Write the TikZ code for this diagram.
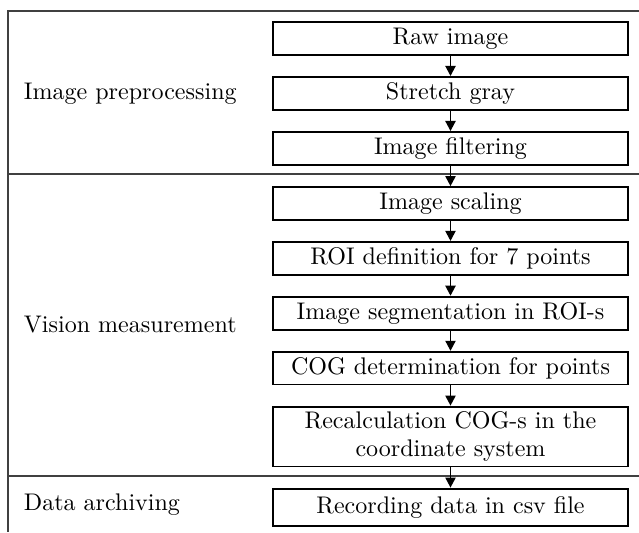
\documentclass[tikz,border=0pt]{standalone}
\usetikzlibrary{arrows.meta, positioning, calc}

\begin{document}
\begin{tikzpicture}[
    x = 0.416pt, y = -0.416pt, % one unit = one pixel of the scan, y down
    > = {Triangle[length=4.2pt, width=4.2pt]}, % arrow head style
    node distance = 8.4pt, % gap between boxes
    thick % line style
    ]

    \tikzset{stage/.style={
    draw = black,
    thick,
    inner ysep = 2.3pt,
    minimum width = 147.7pt,
    minimum height = 13.6pt,
    align = center
    }}
    \tikzset{phase/.style={anchor = west, inner sep = 0pt}}
    \tikzset{rule/.style={draw = black!75, line width = 0.6pt}}

    \useasboundingbox (0,0) rectangle (639,532);

    % table frame
    \draw[rule] (639,11) -- (8,11) -- (8,532);
    \draw[rule] (8,174) -- (639,174);
    \draw[rule] (8,476) -- (639,476);

    % steps
    \node[stage] (raw) at (450.5,38.5) {Raw image};
    \node[stage] (stretch) [below=of raw] {Stretch gray};
    \node[stage] (filter) [below=of stretch] {Image filtering};
    \node[stage] (scale) [below=of filter] {Image scaling};
    \node[stage] (roi) [below=of scale] {ROI definition for 7 points};
    \node[stage] (segment) [below=of roi] {Image segmentation in ROI-s};
    \node[stage] (cog) [below=of segment] {COG determination for points};
    \node[stage, inner ysep=1.9pt] (recalc) [below=of cog]
        {Recalculation COG-s in the\\ coordinate system};
    \node[stage, minimum height=15.6pt] (record) [below=of recalc]
        {Recording data in csv file};

    % phases
    \node[phase] (prep) at (23,94) {Image preprocessing};
    \node[phase] (vision) at (23,325) {Vision measurement};
    \node[phase] (archive) at (23,505) {Data archiving};

    \draw[->] (raw) -- (stretch);
    \draw[->] (stretch) -- (filter);
    \draw[->] (filter) -- (scale);
    \draw[->] (scale) -- (roi);
    \draw[->] (roi) -- (segment);
    \draw[->] (segment) -- (cog);
    \draw[->] (cog) -- (recalc);
    \draw[->] (recalc) -- (record);

\end{tikzpicture}
\end{document}
